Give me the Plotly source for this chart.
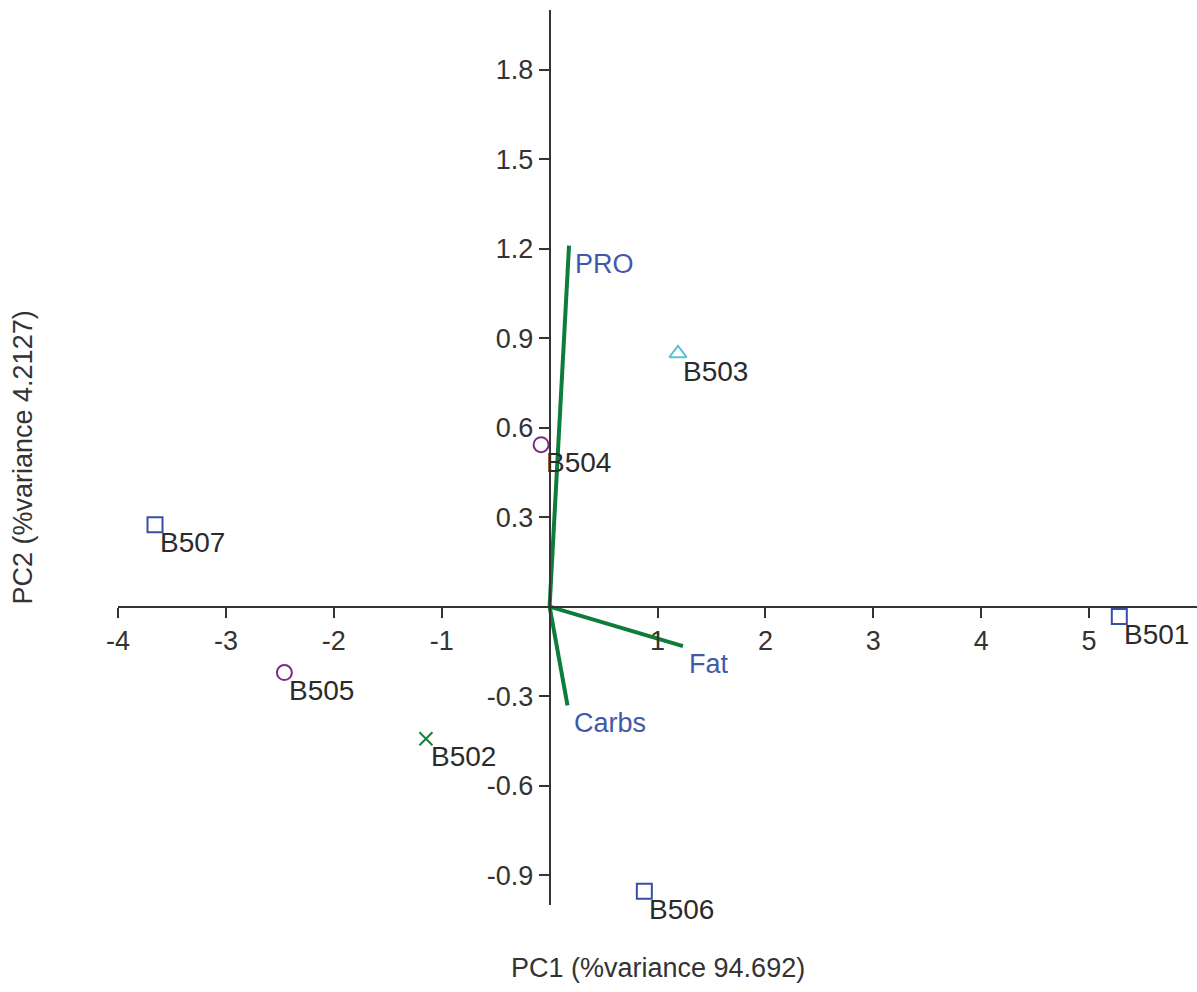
import plotly.graph_objects as go

# Sample scores
sample_names = ["B501", "B502", "B503", "B504", "B505", "B506", "B507"]
pc1_scores = [5.28, -1.146, 1.19, -0.079, -2.458, 0.878, -3.657]
pc2_scores = [-0.033, -0.4425, 0.849, 0.543, -0.221, -0.954, 0.275]
sample_symbols = ["square-open", "x-thin-open", "triangle-up-open", "circle-open",
                  "circle-open", "square-open", "square-open"]
sample_colors = ["#3a4fa3", "#17803f", "#5bc2cf", "#7d2b85",
                 "#7d2b85", "#3a4fa3", "#3a4fa3"]

# Variable loadings
var_names = ["PRO", "Fat", "Carbs"]
load_pc1 = [0.18, 1.236, 0.166]
load_pc2 = [1.21, -0.132, -0.331]

x_ticks = [-4, -3, -2, -1, 1, 2, 3, 4, 5]
y_ticks = [-0.9, -0.6, -0.3, 0.3, 0.6, 0.9, 1.2, 1.5, 1.8]
x_range = [-4, 6]
y_range = [-1, 2]

FONT = "Liberation Sans, Arial, sans-serif"
AXIS_COLOR = "#333333"

fig = go.Figure()

# loading vectors
for name, lx, ly in zip(var_names, load_pc1, load_pc2):
    fig.add_trace(go.Scatter(x=[0, lx], y=[0, ly], mode="lines",
                             line=dict(color="#0d7d3b", width=4),
                             showlegend=False, hoverinfo="skip"))
    fig.add_annotation(x=lx, y=ly, text=name, showarrow=False,
                       xanchor="left", yanchor="middle", xshift=4, yshift=-18,
                       font=dict(family=FONT, size=27, color="#3f5aab"))

# sample points
for name, sx, sy, sym, col in zip(sample_names, pc1_scores, pc2_scores,
                                   sample_symbols, sample_colors):
    size = 13 if sym.startswith("x") else 15
    fig.add_trace(go.Scatter(x=[sx], y=[sy], mode="markers",
                             marker=dict(symbol=sym, size=size, color=col,
                                         line=dict(color=col, width=2)),
                             showlegend=False, hoverinfo="skip"))
    fig.add_annotation(x=sx, y=sy, text=name, showarrow=False,
                       xanchor="left", yanchor="middle", xshift=3, yshift=-18,
                       font=dict(family=FONT, size=28, color="#2b2b2b"))

# axis titles
fig.add_annotation(x=0.5, y=0, xref="paper", yref="paper", yshift=-63,
                   text="PC1 (%variance 94.692)", showarrow=False,
                   xanchor="center", yanchor="middle",
                   font=dict(family=FONT, size=27, color="#333333"))
fig.add_annotation(x=0, y=0.5, xref="paper", yref="paper", xshift=-96,
                   text="PC2 (%variance 4.2127)", showarrow=False, textangle=-90,
                   xanchor="center", yanchor="middle",
                   font=dict(family=FONT, size=27, color="#333333"))

x_zero_frac = (0 - y_range[0]) / (y_range[1] - y_range[0])
y_zero_frac = (0 - x_range[0]) / (x_range[1] - x_range[0])

fig.update_layout(
    width=1197, height=992,
    margin=dict(l=118, r=0, t=10, b=87),
    paper_bgcolor="white", plot_bgcolor="white",
    font=dict(family=FONT, size=27, color="#333333"),
    xaxis=dict(range=x_range, anchor="free", position=x_zero_frac,
               showgrid=False, zeroline=False, showline=True,
               linecolor=AXIS_COLOR, linewidth=2,
               ticks="outside", ticklen=10, tickwidth=2, tickcolor=AXIS_COLOR,
               tickvals=x_ticks, ticktext=[str(v) for v in x_ticks],
               tickfont=dict(family=FONT, size=27, color="#333333")),
    yaxis=dict(range=y_range, anchor="free", position=y_zero_frac,
               showgrid=False, zeroline=False, showline=True,
               linecolor=AXIS_COLOR, linewidth=2,
               ticks="outside", ticklen=10, tickwidth=2, tickcolor=AXIS_COLOR,
               tickvals=y_ticks, ticktext=[f"{v:.1f}" for v in y_ticks],
               ticklabelstandoff=0,
               tickfont=dict(family=FONT, size=27, color="#333333")),
)

fig.write_html(
    "out.html",
    config={"displayModeBar": False, "staticPlot": True},
    post_script="document.body.style.margin='0';"
                "document.documentElement.style.overflow='hidden';",
)
